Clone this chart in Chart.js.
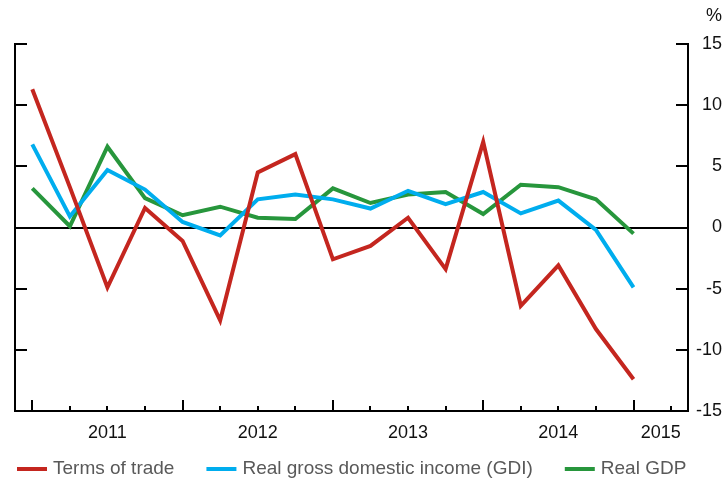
<!DOCTYPE html>
<html><head><meta charset="utf-8">
<script src="https://cdn.jsdelivr.net/npm/chart.js@4/dist/chart.umd.min.js"></script>
<style>html,body{margin:0;padding:0;background:#fff}#wrap{width:727px;height:481px}</style>
</head><body><div id="wrap"><canvas id="c" width="727" height="481"></canvas></div>
<script>
const quarters = ['2010 Q4','2011 Q1','2011 Q2','2011 Q3','2011 Q4','2012 Q1','2012 Q2','2012 Q3','2012 Q4','2013 Q1','2013 Q2','2013 Q3','2013 Q4','2014 Q1','2014 Q2','2014 Q3','2014 Q4'];
const termsOfTrade = [11.3, 3.3, -4.9, 1.6, -1.1, -7.6, 4.5, 6.0, -2.6, -1.5, 0.8, -3.4, 7.0, -6.4, -3.1, -8.3, -12.4];
const realGDI = [6.8, 0.9, 4.7, 3.1, 0.45, -0.65, 2.3, 2.7, 2.3, 1.55, 3.0, 1.9, 2.9, 1.15, 2.2, -0.2, -4.9];
const realGDP = [3.2, 0.1, 6.6, 2.4, 1.0, 1.7, 0.8, 0.7, 3.2, 2.0, 2.7, 2.9, 1.1, 3.5, 3.3, 2.3, -0.5];
const seriesNames = ['Terms of trade', 'Real gross domestic income (GDI)', 'Real GDP'];
const yearLabels = ['2011', '2012', '2013', '2014', '2015'];
const yTickValues = [-15, -10, -5, 0, 5, 10, 15];
const unitLabel = '%';

const FONT = "'Liberation Sans', Arial, Helvetica, sans-serif";
const COLORS = ['#c4261f', '#00adee', '#27963c'];
const X_MIN = -0.46, X_MAX = 17.45;
const QPY = 4;

function yearCenters() {
  return yearLabels.map((_, k) => {
    const s = k * QPY;
    return (s + Math.min(s + QPY, X_MAX)) / 2;
  });
}

const toPts = arr => arr.map((v, i) => ({x: i, y: v}));

const decor = {
  id: 'decor',
  beforeDatasetsDraw(chart) {
    const {ctx, chartArea: a, scales: {y}} = chart;
    const y0 = Math.round(y.getPixelForValue(0));
    ctx.save();
    ctx.strokeStyle = '#000'; ctx.lineWidth = 2;
    ctx.beginPath(); ctx.moveTo(a.left, y0); ctx.lineTo(a.right, y0); ctx.stroke();
    ctx.restore();
  },
  afterDraw(chart) {
    const {ctx, chartArea: a, scales: {x, y}} = chart;
    ctx.save();
    ctx.strokeStyle = '#000'; ctx.lineWidth = 2; ctx.lineCap = 'butt';
    for (let i = Math.ceil(X_MIN); i <= Math.floor(X_MAX); i++) {
      const px = Math.round(x.getPixelForValue(i));
      const len = i % QPY === 0 ? 11 : 5;
      ctx.beginPath(); ctx.moveTo(px, a.bottom); ctx.lineTo(px, a.bottom - len); ctx.stroke();
    }
    yTickValues.forEach(v => {
      if (v === 0 || v === -15) return;
      const py = Math.round(y.getPixelForValue(v));
      ctx.beginPath(); ctx.moveTo(a.left, py); ctx.lineTo(a.left + 12, py); ctx.stroke();
      ctx.beginPath(); ctx.moveTo(a.right, py); ctx.lineTo(a.right - 12, py); ctx.stroke();
    });
    ctx.fillStyle = '#111';
    ctx.font = '18px ' + FONT;
    ctx.textAlign = 'right'; ctx.textBaseline = 'middle';
    ctx.fillText(unitLabel, 722, 16);
    ctx.font = '19px ' + FONT;
    ctx.textAlign = 'left';
    let lx = 17;
    const ly = 469;
    chart.data.datasets.forEach(ds => {
      ctx.strokeStyle = ds.borderColor; ctx.lineWidth = 4;
      ctx.beginPath(); ctx.moveTo(lx, ly); ctx.lineTo(lx + 30, ly); ctx.stroke();
      ctx.fillStyle = '#595959';
      ctx.fillText(ds.label, lx + 36, ly);
      lx += 36 + ctx.measureText(ds.label).width + 32;
    });
    ctx.restore();
  }
};

new Chart(document.getElementById('c'), {
  type: 'line',
  data: {
    labels: quarters,
    datasets: [
      {label: seriesNames[0], data: toPts(termsOfTrade), borderColor: COLORS[0], backgroundColor: COLORS[0]},
      {label: seriesNames[1], data: toPts(realGDI), borderColor: COLORS[1], backgroundColor: COLORS[1]},
      {label: seriesNames[2], data: toPts(realGDP), borderColor: COLORS[2], backgroundColor: COLORS[2]}
    ].map(d => Object.assign(d, {borderWidth: 4, pointRadius: 0, tension: 0, fill: false, borderJoinStyle: 'miter'}))
  },
  options: {
    responsive: false,
    animation: false,
    devicePixelRatio: 1,
    layout: {padding: {left: 15, top: 44, right: 5, bottom: 0}},
    plugins: {legend: {display: false}, tooltip: {enabled: false}},
    scales: {
      x: {
        type: 'linear', position: 'bottom', min: X_MIN, max: X_MAX,
        grid: {display: false, drawTicks: false},
        border: {display: true, color: '#000', width: 2},
        afterBuildTicks(axis) { axis.ticks = yearCenters().map(v => ({value: v})); },
        afterFit(axis) { axis.height = 70; },
        ticks: {
          autoSkip: false, maxRotation: 0, padding: 11, color: '#111',
          font: {family: FONT, size: 18},
          callback: (v, i) => yearLabels[i]
        }
      },
      y: {
        type: 'linear', position: 'right', min: -15, max: 15,
        grid: {display: false, drawTicks: false},
        border: {display: true, color: '#000', width: 2},
        afterBuildTicks(axis) { axis.ticks = yTickValues.map(v => ({value: v})); },
        afterFit(axis) { axis.width = 34; },
        ticks: {crossAlign: 'far', padding: 2, color: '#111', font: {family: FONT, size: 18}}
      },
      yl: {
        type: 'linear', position: 'left', min: -15, max: 15,
        grid: {display: false, drawTicks: false},
        border: {display: true, color: '#000', width: 2},
        ticks: {display: false},
        afterFit(axis) { axis.width = 0; }
      }
    }
  },
  plugins: [decor]
});
</script>
</body></html>
